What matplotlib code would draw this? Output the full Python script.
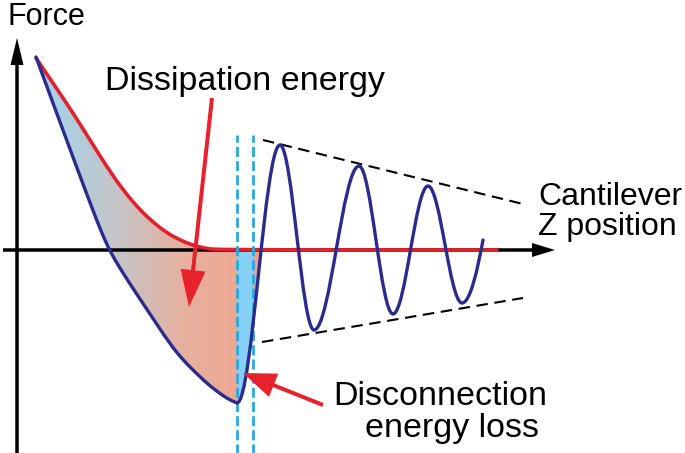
import numpy as np
import matplotlib.pyplot as plt
from matplotlib.path import Path
from matplotlib.patches import PathPatch, Rectangle, FancyArrow
from matplotlib.colors import LinearSegmentedColormap

# positions in pixels relative to the axis origin, force upwards
# approach branch of the blue curve
appr_x = [19, 40, 60, 75, 84, 91, 98, 106, 117, 133, 153, 166, 180, 193, 205, 213, 220]
appr_y = [193, 136, 82, 42, 19, 3, -10, -23, -40, -64, -94, -110, -124, -136, -145, -150, -153]

# extrema of the oscillation after snap-off, then the loose end
osc_x = [220, 263, 297, 342, 376, 411, 445]
osc_y = [-153, 105, -80, 84, -64, 64, -53]
osc_end = (466, 10)

# retract (red) curve
red_x = [19, 23, 40, 56, 73, 90, 106, 123, 137, 150, 163, 175, 187, 200, 480]
red_y = [192, 186, 161, 137, 110, 83, 60, 40, 27, 17, 10, 5, 2, 0, 0]

# envelope lines and snap-off band
env_up = [(246, 110), (506, 46)]
env_lo = [(245, -92), (506, -48)]
band_x = [220, 236]

NAVY = '#2b2b8e'
RED = '#e3202b'
CYAN = '#29a8e0'


def spline(xs, ys):
    # quadratic b-spline through the read points (library draws the curve)
    pts = list(zip(xs, ys))
    verts = [pts[0]]; codes = [Path.MOVETO]
    for ii in range(1, len(pts)-1):
        mid = ((pts[ii][0]+pts[ii+1][0])/2, (pts[ii][1]+pts[ii+1][1])/2)
        verts += [pts[ii], mid]; codes += [Path.CURVE3, Path.CURVE3]
    verts.append(pts[-1]); codes.append(Path.LINETO)
    return verts, codes


def bez_half(p0, p1, k=0.36):
    # one half wave between two extrema, flat tangents at both ends
    dx = p1[0] - p0[0]
    return [(p0[0] + k*dx, p0[1]), (p1[0] - k*dx, p1[1]), p1], [Path.CURVE4]*3


def wave_verts():
    verts, codes = [], []
    for ii in range(len(osc_x)-1):
        v, c = bez_half((osc_x[ii], osc_y[ii]), (osc_x[ii+1], osc_y[ii+1]))
        verts += v; codes += c
    x0, y0 = osc_x[-1], osc_y[-1]
    dx = osc_end[0]-x0; dy = osc_end[1]-y0
    verts += [(x0+0.4*dx, y0), (x0+0.75*dx, y0+0.55*dy), osc_end]
    codes += [Path.CURVE4]*3
    return verts, codes


fig = plt.figure(figsize=(6.85, 4.53), dpi=100)
ax = fig.add_axes([0, 0, 1, 1])
ax.axis('off')

# region between the two curves (clip for the gradient)
cv, cc = spline(appr_x, appr_y)
v, c = bez_half((osc_x[0], osc_y[0]), (osc_x[1], osc_y[1]))
cv += v; cc += c
cv += [(osc_x[1], 0)]; cc += [Path.LINETO]
v, c = spline(red_x[-2::-1], red_y[-2::-1])
c[0] = Path.LINETO
cv += v; cc += c
cv.append((0, 0)); cc.append(Path.CLOSEPOLY)
clip = PathPatch(Path(cv, cc), facecolor='none', edgecolor='none')
ax.add_patch(clip)

cmap = LinearSegmentedColormap.from_list('diss', ['#a0d4f0', '#c2c6ca', '#e8b09e', '#eea58c'])
grad = np.linspace(0, 1, 256).reshape(1, -1)
im = ax.imshow(grad, extent=[18, 246, -160, 195], cmap=cmap, aspect='auto', zorder=1)
im.set_clip_path(clip)

band = Rectangle((band_x[0], -160), band_x[1]-band_x[0], 160, facecolor='#86cff5',
                 edgecolor='none', zorder=1.5)
band.set_clip_path(clip)
ax.add_patch(band)

# axes arrows
ax.add_patch(FancyArrow(0, -205, 0, 417, width=3.5, head_width=13, head_length=27,
                        length_includes_head=True, color='black', lw=0, zorder=2))
ax.add_patch(FancyArrow(-14, 0, 552, 0, width=3.5, head_width=14, head_length=23,
                        length_includes_head=True, color='black', lw=0, zorder=2))

# envelope
for seg in (env_up, env_lo):
    ax.plot([seg[0][0], seg[1][0]], [seg[0][1], seg[1][1]], color='black', lw=1.5,
            ls=(0, (5.5, 3.2)), zorder=2)

# retract curve
rv, rc = spline(red_x, red_y)
ax.add_patch(PathPatch(Path(rv, rc), facecolor='none', edgecolor=RED, lw=2.6,
                       joinstyle='round', capstyle='round', zorder=3))

# snap-off band edges
for bx in band_x:
    ax.plot([bx, bx], [-205, 115], color=CYAN, lw=2, ls=(0, (3.6, 1.5)), zorder=3.5)

# approach curve + oscillation
bv, bc = spline(appr_x, appr_y)
v, c = wave_verts()
bv += v; bc += c
ax.add_patch(PathPatch(Path(bv, bc), facecolor='none', edgecolor=NAVY, lw=2.4,
                       joinstyle='round', capstyle='round', zorder=4))

# red pointer arrows
ax.add_patch(FancyArrow(195, 152, -23, -209, width=4, head_width=25, head_length=37,
                        length_includes_head=True, color='#e8222c', lw=0, zorder=5))
ax.add_patch(FancyArrow(306, -155, -80, 32, width=4, head_width=25, head_length=33,
                        length_includes_head=True, color='#e8222c', lw=0, zorder=5))

fnt = 'Liberation Sans'
ax.text(-10, 225, 'Force', fontsize=22, family=fnt, va='baseline')
ax.text(88, 160, 'Dissipation energy', fontsize=24.5, family=fnt, va='baseline')
ax.text(521, 45, 'Cantilever', fontsize=23, family=fnt, va='baseline')
ax.text(521, 15, 'Z position', fontsize=23, family=fnt, va='baseline')
ax.text(316, -155, 'Disconnection', fontsize=24.5, family=fnt, va='baseline')
ax.text(348, -187, 'energy loss', fontsize=24.5, family=fnt, va='baseline')

ax.set_xlim(-17, 668)
ax.set_ylim(-203, 250)
fig.savefig('out.png', dpi=100)
